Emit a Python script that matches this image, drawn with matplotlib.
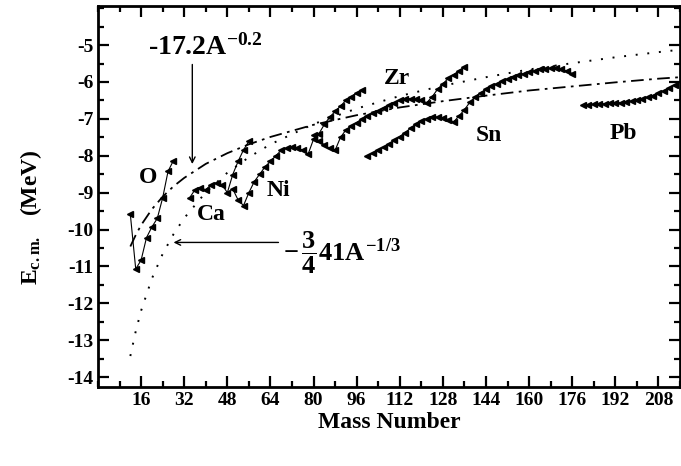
import matplotlib
matplotlib.use("Agg")
import matplotlib.pyplot as plt
from matplotlib.ticker import MultipleLocator, FixedLocator

plt.rcParams['font.family'] = ['Liberation Serif', 'DejaVu Serif']
plt.rcParams['font.weight'] = 'bold'
plt.rcParams['axes.unicode_minus'] = False
plt.rcParams['mathtext.fontset'] = 'custom'
plt.rcParams['mathtext.rm'] = 'Liberation Serif:bold'
plt.rcParams['mathtext.it'] = 'Liberation Serif:bold'
plt.rcParams['mathtext.bf'] = 'Liberation Serif:bold'

# isotope chains (mass number, energy in MeV)
o_a = [12, 14, 16, 18, 20, 22, 24, 26, 28]
o_e = [-9.59, -11.07, -10.83, -10.22, -9.93, -9.70, -9.14, -8.42, -8.13]

ca_a = [34, 36, 38, 40, 42, 44, 46, 48, 50, 52, 54, 56]
ca_e = [-9.14, -8.92, -8.87, -8.92, -8.78, -8.74, -8.78, -9.00, -8.51, -8.15, -7.84, -7.61]

ni_a = [50, 52, 54, 56, 58, 60, 62, 64, 66, 68, 70, 72, 74, 76, 78,
        80, 82, 84, 86, 88, 90, 92, 94, 96, 98]
ni_e = [-8.90, -9.20, -9.35, -9.00, -8.70, -8.50, -8.30, -8.15, -8.00, -7.85, -7.80, -7.75, -7.78, -7.85, -7.95,
        -7.55, -7.40, -7.15, -6.95, -6.80, -6.65, -6.50, -6.40, -6.30, -6.22]

zr_a = [80, 82, 84, 86, 88, 90, 92, 94, 96, 98, 100, 102, 104, 106, 108, 110,
        112, 114, 116, 118, 120, 122, 124, 126, 128, 130, 132, 134, 136]
zr_e = [-7.45, -7.60, -7.70, -7.80, -7.85, -7.50, -7.30, -7.20, -7.10, -7.00, -6.93, -6.85, -6.78, -6.70, -6.62, -6.56,
        -6.50, -6.46, -6.45, -6.47, -6.50, -6.56, -6.40, -6.20, -6.05, -5.90, -5.80, -5.70, -5.60]

sn_a = [100, 102, 104, 106, 108, 110, 112, 114, 116, 118, 120, 122, 124, 126, 128, 130,
        132, 134, 136, 138, 140, 142, 144, 146, 148, 150, 152, 154, 156, 158, 160,
        162, 164, 166, 168, 170, 172, 174, 176]
sn_e = [-8.02, -7.93, -7.85, -7.77, -7.68, -7.58, -7.48, -7.37, -7.25, -7.15, -7.05, -7.00, -6.96, -6.95, -6.97, -7.02,
        -7.08, -6.92, -6.75, -6.55, -6.40, -6.30, -6.20, -6.12, -6.05, -5.98, -5.92, -5.86, -5.81, -5.77, -5.73,
        -5.69, -5.66, -5.64, -5.63, -5.63, -5.65, -5.70, -5.77]

pb_a = [180, 182, 184, 186, 188, 190, 192, 194, 196, 198, 200, 202, 204, 206, 208, 210, 212, 214]
pb_e = [-6.63, -6.62, -6.61, -6.60, -6.59, -6.58, -6.57, -6.56, -6.54, -6.52, -6.50, -6.46, -6.42, -6.37, -6.31, -6.24, -6.16, -6.08]

# fitted curves
fit1_a = [12, 14, 16, 20, 24, 28, 32, 40, 48, 56, 64, 80, 96, 112, 128, 144, 160, 176, 192, 208, 216]
fit1_e = [-10.46, -10.15, -9.88, -9.45, -9.11, -8.83, -8.60, -8.22, -7.93, -7.69, -7.49, -7.16, -6.90,
          -6.69, -6.52, -6.37, -6.23, -6.12, -6.01, -5.91, -5.87]
fit2_a = [12, 14, 16, 20, 24, 28, 32, 40, 48, 56, 64, 80, 96, 112, 128, 144, 160, 176, 192, 208, 216]
fit2_e = [-13.43, -12.76, -12.20, -11.33, -10.66, -10.13, -9.69, -8.99, -8.46, -8.04, -7.69, -7.14, -6.72,
          -6.38, -6.10, -5.87, -5.66, -5.49, -5.33, -5.19, -5.125]

fig = plt.figure(figsize=(6.81, 4.66), dpi=100)
ax = fig.add_axes([0.1439, 0.1695, 0.8547, 0.8176])

ax.plot(fit1_a, fit1_e, color='black', lw=1.3, linestyle=(0, (7, 3, 1.5, 3)))
ax.plot(fit2_a, fit2_e, color='black', lw=1.4, linestyle=(0, (1, 5)))

for a, e in [(o_a, o_e), (ca_a, ca_e), (ni_a, ni_e), (zr_a, zr_e), (sn_a, sn_e), (pb_a, pb_e)]:
    ax.plot(a, e, color='black', lw=0.8, marker='<', markersize=5)

lab = dict(fontsize=17, fontweight='bold', ha='center', va='center')
ax.text(18.5, -8.6, 'O', **lab)
ax.text(42, -9.6, 'Ca', **lab)
ax.text(67, -8.95, 'Ni', **lab)
ax.text(111, -5.9, 'Zr', **lab)
ax.text(145, -7.45, 'Sn', **lab)
ax.text(195, -7.4, 'Pb', **lab)

ax.annotate('', xy=(35, -8.3), xytext=(35, -5.45),
            arrowprops=dict(arrowstyle='->', color='black', lw=1))
ax.text(40, -5.05, r'-17.2A$^{-0.2}$', fontsize=20, fontweight='bold', ha='center', va='center')
ax.annotate('', xy=(27, -10.35), xytext=(68, -10.35),
            arrowprops=dict(arrowstyle='->', color='black', lw=1))
ax.text(68.5, -10.62, r'$-\,\dfrac{3}{4}41A^{-1/3}$', fontsize=19, ha='left', va='center')

ax.set_xlim(0, 216)
ax.set_ylim(-14.27, -3.94)
ax.xaxis.set_major_locator(FixedLocator(list(range(16, 209, 16))))
ax.xaxis.set_minor_locator(MultipleLocator(8))
ax.yaxis.set_major_locator(FixedLocator(list(range(-14, -4))))
ax.yaxis.set_minor_locator(MultipleLocator(0.5))
ax.tick_params(which='both', direction='in', top=True, right=True, width=1.6, labelsize=14)
ax.tick_params(which='major', length=8)
ax.tick_params(which='minor', length=4)
for s in ax.spines.values():
    s.set_linewidth(2)

ax.set_xlabel('Mass Number', fontsize=17, fontweight='bold', labelpad=2)
ax.set_ylabel(r'E$_{\mathrm{c.m.}}$   (MeV)', fontsize=17, fontweight='bold')
ax.yaxis.set_label_coords(-0.092, 0.445)

fig.savefig('out.png', dpi=100)
